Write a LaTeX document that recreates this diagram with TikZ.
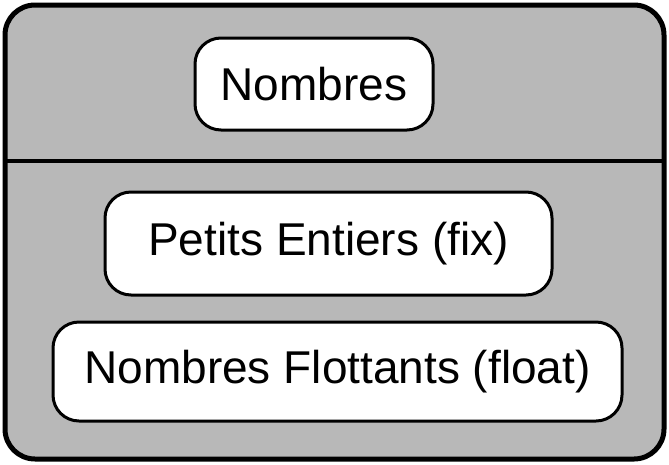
\documentclass[tikz,border=0pt]{standalone}
\usepackage{fontspec}
\setmainfont{Liberation Sans}
\tikzset{
  cadre/.style={line width=5pt,rounded corners=30pt,fill=black!28},
  boite/.style={draw,fill=white,line width=3pt,rounded corners=26pt,inner sep=0pt,
    font=\fontsize{46}{52}\selectfont}
}
\begin{document}
\begin{tikzpicture}[x=1pt,y=-1pt]
            \def\larg{669}
            \def\haut{464}
            \useasboundingbox (0,0) rectangle (\larg,\haut);
            \draw[cadre] (5,5) rectangle (664,459);
            \coordinate (sepg) at (5,161);
            \coordinate (sepd) at (664,161);
            \draw[line width=4pt] (sepg) -- (sepd);
            \node[boite,minimum width=238pt,minimum height=92pt] (nombres) at (314,84) {Nombres};
            \node[boite,minimum width=447pt,minimum height=103pt] (fix) at (328.5,243.5) {Petits Entiers (fix)};
            \node[boite,minimum width=569pt,minimum height=99pt] (float) at (337.5,371.5) {Nombres Flottants (float)};
    \end{tikzpicture}
\end{document}
